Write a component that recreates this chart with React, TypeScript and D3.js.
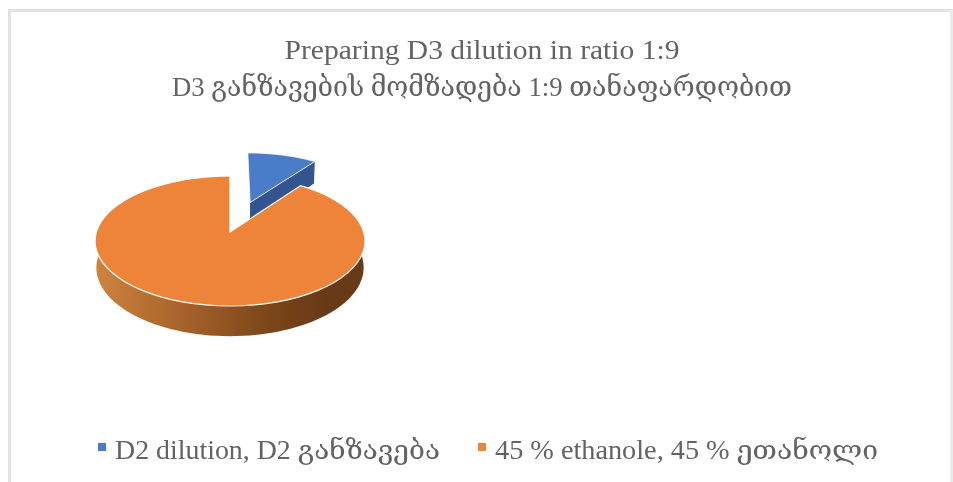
import React from "react";
import * as d3 from "d3";

const titleLines = ["Preparing D3 dilution in ratio 1:9", "D3 განზავების მომზადება 1:9 თანაფარდობით"];
const categories = ["D2 dilution, D2 განზავება", "45 % ethanole, 45 % ეთანოლი"];
const values = [10, 90];
const topColors = ["#4b7cc9", "#ee8439"];
const wallColor = "#33548e";
const explode = [0.52, 0];

const W = 953, H = 482;
const CX = 230, CY = 232, RX = 133.7, RY = 63.8, P = 0.138, DEPTH = 26;
const FONT = "'Liberation Serif', 'DejaVu Serif', serif";
const TEXT = "#636363";
const titleWidths = [395, 620];
const legendWidths = [325, 383];

type Pt = [number, number];
const project = (u: number, v: number, down = 0): Pt => {
  const w = 1 + P * v;
  const shrink = down ? 0.99 : 1;
  return [CX + (RX * u * shrink) / w, CY - (RY * v) / w + down / w];
};
const line = d3.line<Pt>();

export default function App() {
  const arcs = d3.pie<number>().sort(null)(values);
  const ring = (a0: number, a1: number, ox: number, oy: number, down = 0): Pt[] =>
    d3.range(0, 73).map((i) => {
      const a = a0 + ((a1 - a0) * i) / 72;
      return project(ox + Math.sin(a), oy + Math.cos(a), down);
    });

  const [blue, orange] = arcs;
  const mid = (blue.startAngle + blue.endAngle) / 2;
  const ox = explode[0] * Math.sin(mid), oy = explode[0] * Math.cos(mid);
  const blueApex = project(ox, oy);
  const blueEnd = project(ox + Math.sin(blue.endAngle), oy + Math.cos(blue.endAngle));
  const blueWall = line([blueApex, blueEnd, project(ox + Math.sin(blue.endAngle), oy + Math.cos(blue.endAngle), DEPTH), project(ox, oy, DEPTH)])! + "Z";
  const blueTop = line([blueApex, ...ring(blue.startAngle, blue.endAngle, ox, oy)])! + "Z";

  const orangeApex = project(0, 0);
  const orangeTop = line([orangeApex, ...ring(orange.startAngle, orange.endAngle, 0, 0)])! + "Z";
  const wa0 = Math.PI / 2 - 0.02, wa1 = (3 * Math.PI) / 2 + 0.02;
  const orangeWall = line([...ring(wa0, wa1, 0, 0), ...ring(wa0, wa1, 0, 0, DEPTH).reverse()])! + "Z";

  return (
    <svg width={W} height={H} viewBox={`0 0 ${W} ${H}`} style={{ position: "absolute", left: 0, top: 0, display: "block", background: "#fff", filter: "blur(0.5px)" }}>
      <defs>
        <linearGradient id="wall" gradientUnits="userSpaceOnUse" x1={95} x2={365} y1={0} y2={0}>
          <stop offset="0" stopColor="#cf843f" />
          <stop offset="0.35" stopColor="#a3602a" />
          <stop offset="0.65" stopColor="#7a4519" />
          <stop offset="0.85" stopColor="#683a17" />
          <stop offset="1" stopColor="#683a17" />
        </linearGradient>
      </defs>
      <path d="M9.5 482V10.5H953" fill="none" stroke="#e3e3e3" strokeWidth={3} />
      <path d="M951.5 10V482" fill="none" stroke="#ececec" strokeWidth={3} />

      {titleLines.map((t, i) => (
        <text key={t} x={482} y={59 + i * 37} textAnchor="middle" fontFamily={FONT} fontSize={28} fill={TEXT} textLength={titleWidths[i]} lengthAdjust="spacingAndGlyphs">{t}</text>
      ))}

      <path d={blueWall} fill={wallColor} />
      <path d={blueTop} fill={topColors[0]} stroke="#fff" strokeWidth={0.8} />
      <path d={orangeWall} fill="url(#wall)" />
      <path d={orangeTop} fill={topColors[1]} stroke="#fff" strokeWidth={1.2} />

      {categories.map((c, i) => {
        const sx = [98, 478][i], tx = [115, 495][i];
        return (
          <g key={c}>
            <rect x={sx} y={443} width={8} height={8} fill={topColors[i]} />
            <text x={tx} y={459} fontFamily={FONT} fontSize={27} fill={TEXT} textLength={legendWidths[i]} lengthAdjust="spacingAndGlyphs">{c}</text>
          </g>
        );
      })}
    </svg>
  );
}
